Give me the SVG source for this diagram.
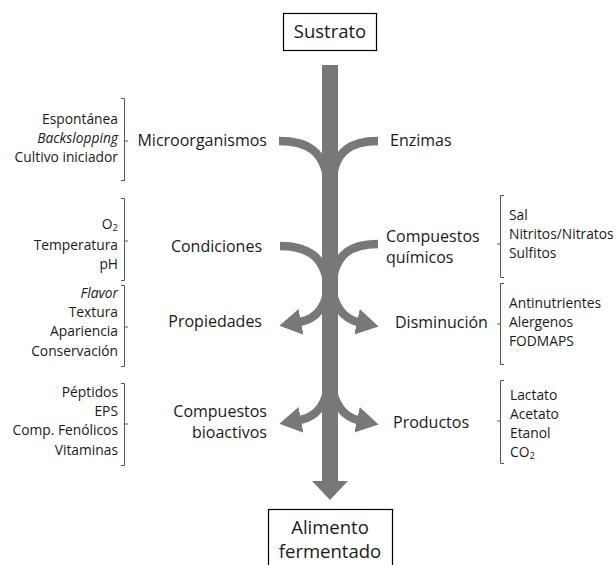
<svg xmlns="http://www.w3.org/2000/svg" width="616" height="565" viewBox="0 0 616 565">
<style>
text{font-family:"Open Sans","Noto Sans","Liberation Sans",sans-serif;fill:#1a1a1a}
.main{font-size:16px}
.side{font-size:13.8px}
.box{font-size:18.5px}
.l{text-anchor:end}
.c{text-anchor:middle}
.frame{fill:#fff;stroke:#000;stroke-width:1.2}
.br{fill:none;stroke:#555;stroke-width:1}
.flow{fill:none;stroke:#787878;stroke-width:8.5}
.sub{font-size:9.5px}
</style>
<defs>
<marker id="head" markerUnits="userSpaceOnUse" markerWidth="24" markerHeight="26" refX="1" refY="13" orient="auto" viewBox="0 0 24 26">
<path d="M0,0 L22,13 L0,26 z" fill="#787878"/>
</marker>
</defs>
<g id="connectors">
<rect x="322" y="65" width="16" height="418" fill="#787878"/>
<polygon points="312,481 348,481 330,500" fill="#787878"/>
<path class="flow" d="M279,141 C306,141 326,150 328,186"/>
<path class="flow" d="M378,141 C352,141 333,150 332,186"/>
<path class="flow" d="M280,246 C306,246 326,255 328,290"/>
<path class="flow" d="M378,244 C352,244 333,253 332,290"/>
<path class="flow" d="M329,282 C327,306 316,319 300,322" marker-end="url(#head)"/>
<path class="flow" d="M331,282 C333,306 344,319 358,322" marker-end="url(#head)"/>
<path class="flow" d="M329,380 C327,404 316,417 300,420" marker-end="url(#head)"/>
<path class="flow" d="M331,380 C333,404 344,417 358,420" marker-end="url(#head)"/>
</g>
<g id="sustrato">
<rect class="frame" x="283.5" y="13.5" width="93" height="37"/>
<text class="box c" x="330" y="38">Sustrato</text>
</g>
<g id="alimento">
<rect class="frame" x="268.5" y="509.5" width="124" height="70"/>
<text class="box c" x="330" y="534">Alimento</text>
<text class="box c" x="330" y="558">fermentado</text>
</g>
<g id="microorganismos">
<text class="main l" x="267" y="146">Microorganismos</text>
<path class="br" d="M121,98.5 H124.5 V180.5 H121 M124.5,141 H128"/>
<text class="side l" x="118" y="124">Espontánea</text>
<text class="side l" x="118" y="143" font-style="italic">Backslopping</text>
<text class="side l" x="118" y="162">Cultivo iniciador</text>
</g>
<g id="enzimas">
<text class="main" x="390" y="146">Enzimas</text>
</g>
<g id="condiciones">
<text class="main l" x="262" y="252">Condiciones</text>
<path class="br" d="M121,198.5 H124.5 V280.5 H121 M124.5,241 H128"/>
<text class="side l" x="118" y="229">O<tspan class="sub" dy="2">2</tspan></text>
<text class="side l" x="118" y="250">Temperatura</text>
<text class="side l" x="118" y="269">pH</text>
</g>
<g id="compuestos-quimicos">
<text class="main" x="386" y="242">Compuestos</text>
<text class="main" x="386" y="263">químicos</text>
<path class="br" d="M504,195.5 H500.5 V277.5 H504 M500.5,244 H497"/>
<text class="side" x="509" y="220">Sal</text>
<text class="side" x="509" y="239">Nitritos/Nitratos</text>
<text class="side" x="509" y="258">Sulfitos</text>
</g>
<g id="propiedades">
<text class="main l" x="262" y="327">Propiedades</text>
<path class="br" d="M121,285.5 H124.5 V366.5 H121 M124.5,327 H128"/>
<text class="side l" x="118" y="298" font-style="italic">Flavor</text>
<text class="side l" x="118" y="317">Textura</text>
<text class="side l" x="118" y="336">Apariencia</text>
<text class="side l" x="118" y="356">Conservación</text>
</g>
<g id="disminucion">
<text class="main" x="395" y="328">Disminución</text>
<path class="br" d="M504,283.5 H500.5 V364.5 H504 M500.5,324 H497"/>
<text class="side" x="509" y="308">Antinutrientes</text>
<text class="side" x="509" y="327">Alergenos</text>
<text class="side" x="509" y="346">FODMAPS</text>
</g>
<g id="compuestos-bioactivos">
<text class="main l" x="267" y="417">Compuestos</text>
<text class="main l" x="267" y="438">bioactivos</text>
<path class="br" d="M121,383.5 H124.5 V465.5 H121 M124.5,424 H128"/>
<text class="side l" x="118" y="397">Péptidos</text>
<text class="side l" x="118" y="416">EPS</text>
<text class="side l" x="118" y="435">Comp. Fenólicos</text>
<text class="side l" x="118" y="455">Vitaminas</text>
</g>
<g id="productos">
<text class="main" x="393" y="428">Productos</text>
<path class="br" d="M504,380.5 H500.5 V463.5 H504 M500.5,421 H497"/>
<text class="side" x="510" y="400">Lactato</text>
<text class="side" x="510" y="419">Acetato</text>
<text class="side" x="510" y="438">Etanol</text>
<text class="side" x="510" y="457">CO<tspan class="sub" dy="2">2</tspan></text>
</g>
</svg>
